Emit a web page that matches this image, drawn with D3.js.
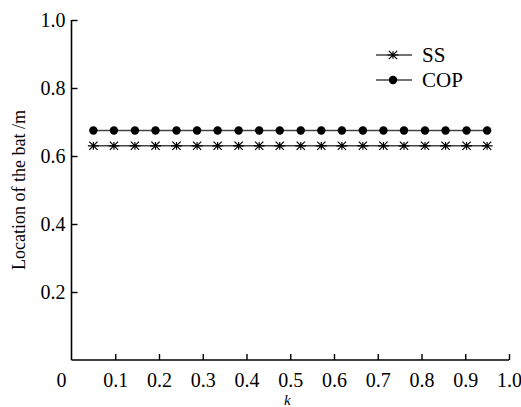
<!DOCTYPE html>
<meta charset="utf-8">
<script src="https://d3js.org/d3.v7.min.js"></script>
<style>
  body { margin: 0; background: #fff; }
  svg text { font-family: "Liberation Serif", "Times New Roman", "DejaVu Serif", serif; fill: #000; }
</style>
<div id="my_dataviz"></div>
<script>

// data
var kValues = [0.05, 0.097, 0.145, 0.192, 0.24, 0.287, 0.334, 0.382, 0.429, 0.476,
               0.524, 0.571, 0.618, 0.666, 0.713, 0.76, 0.808, 0.855, 0.903, 0.95];
var ssValues  = [0.63, 0.63, 0.63, 0.63, 0.63, 0.63, 0.63, 0.63, 0.63, 0.63,
                 0.63, 0.63, 0.63, 0.63, 0.63, 0.63, 0.63, 0.63, 0.63, 0.63];
var copValues = [0.675, 0.675, 0.675, 0.675, 0.675, 0.675, 0.675, 0.675, 0.675, 0.675,
                 0.675, 0.675, 0.675, 0.675, 0.675, 0.675, 0.675, 0.675, 0.675, 0.675];
var xTicks = [0.1, 0.2, 0.3, 0.4, 0.5, 0.6, 0.7, 0.8, 0.9, 1.0];
var yTicks = [0.2, 0.4, 0.6, 0.8, 1.0];
var seriesNames = ["SS", "COP"];

var margin = {top: 20, right: 12, bottom: 47, left: 71.5},
    width = 521 - margin.left - margin.right,
    height = 407 - margin.top - margin.bottom;

var svg = d3.select("#my_dataviz")
  .append("svg")
    .attr("width", 521)
    .attr("height", 407)
  .append("g")
    .attr("transform", "translate(" + margin.left + "," + margin.top + ")");

var x = d3.scaleLinear().domain([0, 1]).range([0, 437.5]);
var y = d3.scaleLinear().domain([0, 1]).range([340, 0]);

// X axis, ticks pointing inward
var xAxis = svg.append("g")
  .attr("transform", "translate(0," + y(0) + ")")
  .call(d3.axisBottom(x).tickValues(xTicks).tickSizeInner(-6).tickSizeOuter(0)
    .tickFormat(d3.format(".1f")));
xAxis.attr("font-family", null).attr("font-size", null);
xAxis.select(".domain").attr("d", "M0,0H" + x(1)).attr("stroke", "#000").attr("stroke-width", 1.6);
xAxis.selectAll(".tick line").attr("stroke", "#000").attr("stroke-width", 1.4);
xAxis.selectAll(".tick text")
  .attr("y", 13)
  .style("font-size", "20px");

// zero label at the origin
svg.append("text")
  .attr("x", x(0) - 10)
  .attr("y", y(0) + 27)
  .style("text-anchor", "middle")
  .style("font-size", "20px")
  .text("0");

// Y axis, ticks pointing inward
var yAxis = svg.append("g")
  .call(d3.axisLeft(y).tickValues(yTicks).tickSizeInner(-6).tickSizeOuter(0)
    .tickFormat(d3.format(".1f")));
yAxis.attr("font-family", null).attr("font-size", null);
yAxis.select(".domain").attr("d", "M0," + y(0) + "V" + y(1)).attr("stroke", "#000").attr("stroke-width", 1.6);
yAxis.selectAll(".tick line").attr("stroke", "#000").attr("stroke-width", 1.4);
yAxis.selectAll(".tick text")
  .attr("x", -6)
  .style("font-size", "20px");

// axis titles
svg.append("text")
  .attr("x", x(0.5) - 3)
  .attr("y", y(0) + 45)
  .style("text-anchor", "middle")
  .style("font-size", "15px")
  .style("font-style", "italic")
  .text("k");

svg.append("text")
  .attr("transform", "rotate(-90)")
  .attr("x", -y(0.5))
  .attr("y", -47)
  .style("text-anchor", "middle")
  .style("font-size", "18px")
  .text("Location of the bat /m");

// series
var ssData = kValues.map(function (k, i) { return {k: k, v: ssValues[i]}; });
var copData = kValues.map(function (k, i) { return {k: k, v: copValues[i]}; });

var line = d3.line()
  .x(function (d) { return x(d.k); })
  .y(function (d) { return y(d.v); });

function star(g, cx, cy, r) {
  var s = r * 0.75;
  g.append("path")
    .attr("d", "M" + (cx - r) + "," + cy + "H" + (cx + r) +
               "M" + (cx - s) + "," + (cy - s) + "L" + (cx + s) + "," + (cy + s) +
               "M" + (cx - s) + "," + (cy + s) + "L" + (cx + s) + "," + (cy - s) +
               "M" + cx + "," + (cy - r * 0.7) + "V" + (cy + r * 0.7))
    .attr("stroke", "#000")
    .attr("stroke-width", 1.2)
    .attr("fill", "none");
}

svg.append("path")
  .datum(ssData)
  .attr("d", line)
  .attr("fill", "none")
  .attr("stroke", "#444")
  .attr("stroke-width", 1.6);

var ssG = svg.append("g");
ssData.forEach(function (d) { star(ssG, x(d.k), y(d.v), 5.5); });

svg.append("path")
  .datum(copData)
  .attr("d", line)
  .attr("fill", "none")
  .attr("stroke", "#444")
  .attr("stroke-width", 1.6);

svg.append("g")
  .selectAll("circle")
  .data(copData)
  .enter()
  .append("circle")
    .attr("cx", function (d) { return x(d.k); })
    .attr("cy", function (d) { return y(d.v); })
    .attr("r", 4.2)
    .attr("fill", "#000");

// legend
var legend = svg.append("g").attr("transform", "translate(" + (376 - margin.left) + ",35)");
seriesNames.forEach(function (name, i) {
  var ly = i * 25;
  legend.append("line")
    .attr("x1", 0).attr("x2", 36)
    .attr("y1", ly).attr("y2", ly)
    .attr("stroke", "#444")
    .attr("stroke-width", 1.6);
  if (name === "SS") {
    star(legend, 17, ly, 5.5);
  } else {
    legend.append("circle").attr("cx", 17).attr("cy", ly).attr("r", 4.2).attr("fill", "#000");
  }
  legend.append("text")
    .attr("x", 46)
    .attr("y", ly + 7)
    .style("font-size", "21px")
    .text(name);
});

</script>
